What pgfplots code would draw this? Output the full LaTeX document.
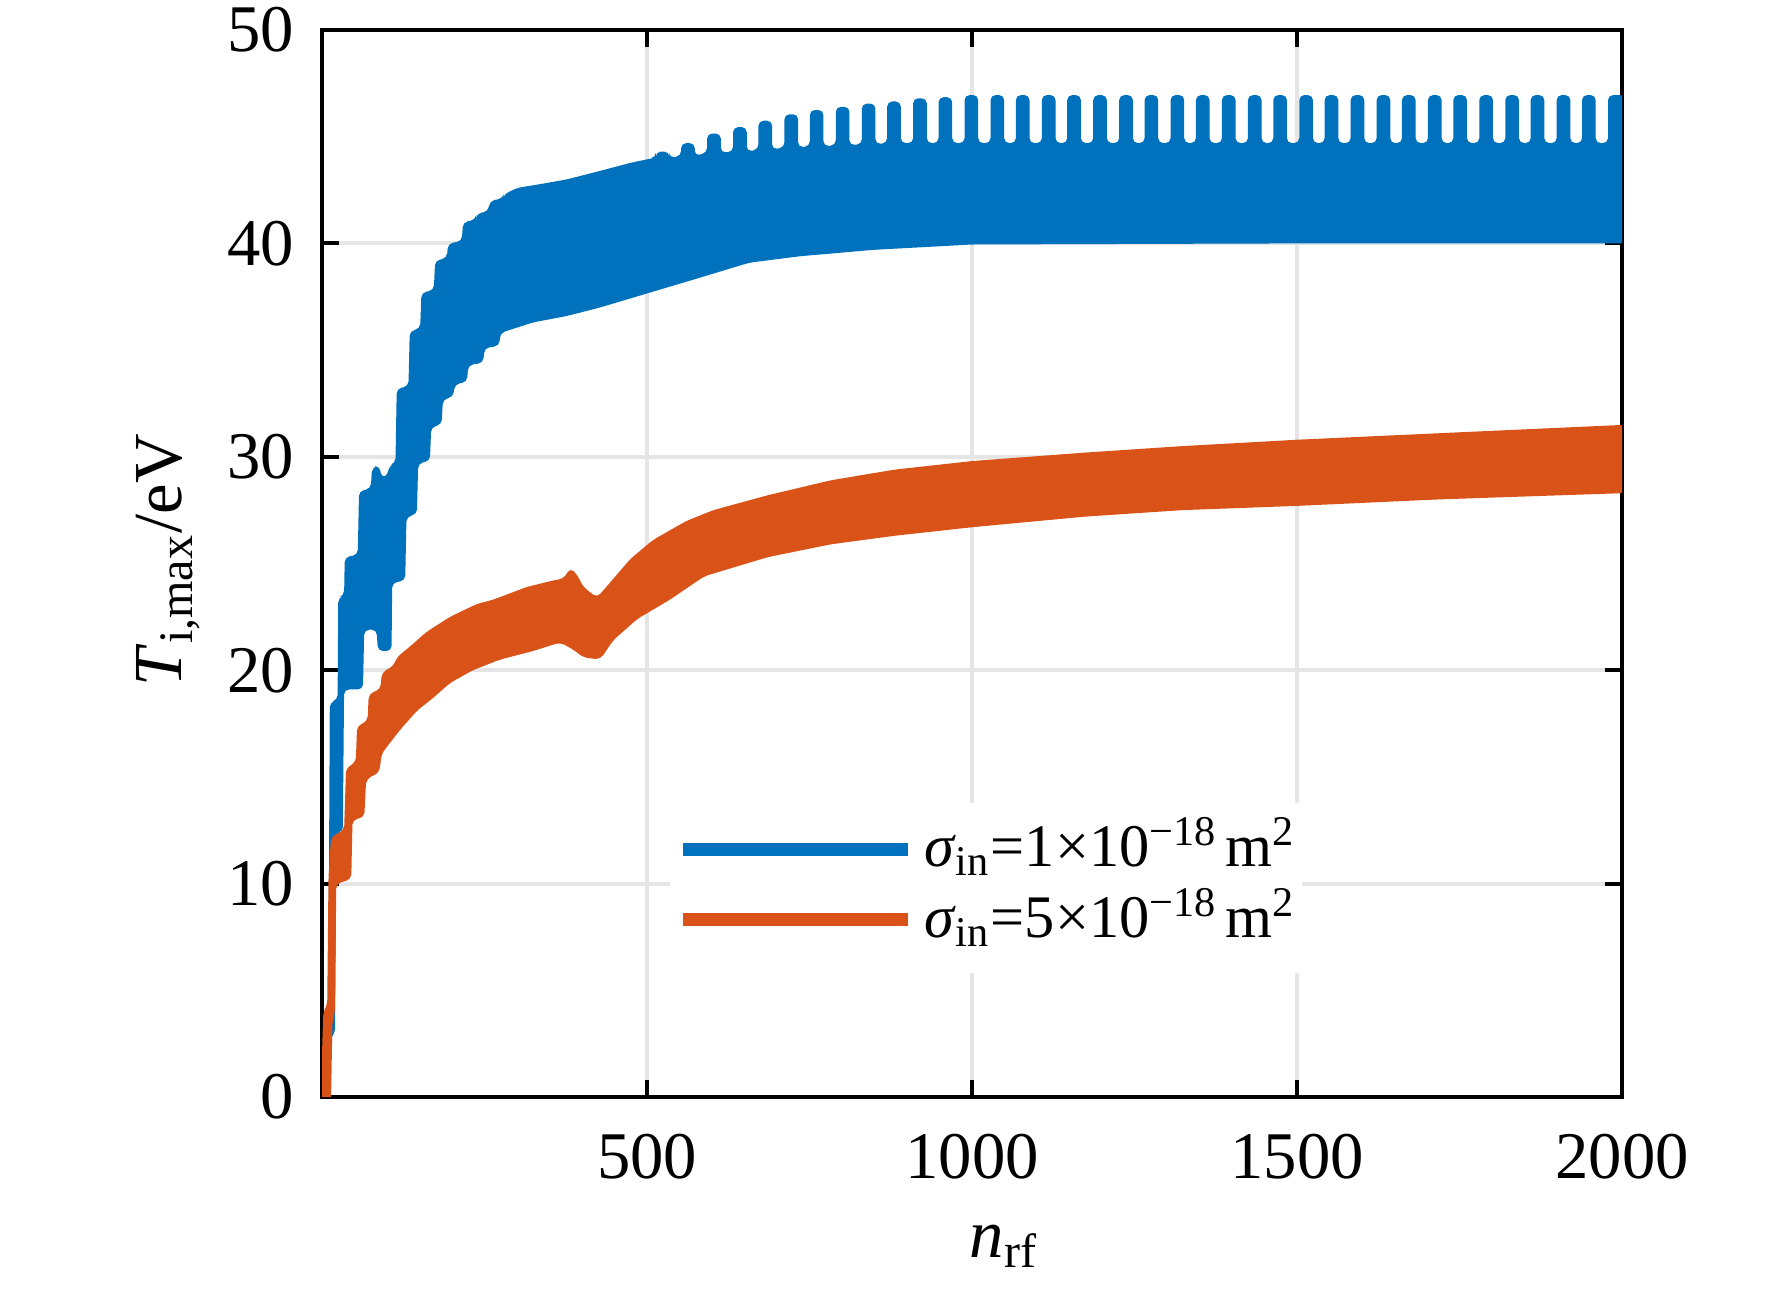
\documentclass[border=0pt]{standalone}
\usepackage{fontspec}
\setmainfont{Liberation Serif}
\usepackage{pgfplots}
\pgfplotsset{compat=1.18}
\definecolor{matblue}{RGB}{0,114,189}
\definecolor{matorange}{RGB}{217,83,25}
\pgfplotsset{layers/mylayers/.define layer set={axis background,axis grid,pre main,main,axis ticks,axis lines,axis tick labels,axis descriptions,axis foreground}{}}
\begin{document}
\begin{tikzpicture}
\begin{axis}[
  set layers=mylayers,
  at={(0,0)}, anchor=south west,
  scale only axis, width=312bp, height=256.08bp,
  xmin=0, xmax=2000, ymin=0, ymax=50,
  xtick={500,1000,1500,2000}, ytick={0,10,20,30,40,50},
  tick pos=both,
  tick align=inside, major tick length=4bp,
  tick style={line width=1bp, black},
  axis line style={line width=1bp},
  grid=major, major grid style={line width=1bp, color=black!10},
  /pgf/number format/assume math mode=true,
  /pgf/number format/set thousands separator={},
  ticklabel style={font=\fontsize{16bp}{19bp}\selectfont},
  xticklabel style={anchor=north, inner sep=0pt, yshift=-8.6bp},
  yticklabel style={anchor=east, inner sep=0pt, xshift=-6.5bp},
  xlabel={\textit{n}\textsubscript{rf}},
  ylabel={\textit{T}\textsubscript{i,max}/eV},
  label style={font=\fontsize{16.5bp}{19bp}\selectfont, inner sep=0pt},
  xlabel style={at={(axis description cs:0.5246,-0.15)}, anchor=base},
  ylabel style={at={(axis description cs:-0.1077,0.503)}, anchor=base},
  legend image code/.code={\draw[#1] (0bp,0.8bp) -- (54bp,0.8bp);},
  legend style={at={(axis description cs:0.267,0.2765)}, anchor=north west,
    draw=none, fill=white, inner xsep=1.7bp, inner ysep=3.4bp, row sep=0pt,
    font=\fontsize{14.5bp}{17bp}\selectfont,
    nodes={inner sep=0pt, text height=12bp, text depth=5bp},
    /tikz/every odd column/.append style={column sep=2.2bp}},
  legend cell align=left,
]
% sigma_in = 1e-18 : band (upper envelope left to right, lower envelope right to left)
\addplot[fill=matblue, draw=none, rounded corners=1.2bp, forget plot] coordinates {
(10,2.8) (11,12) (12,18.5) (24,18.6) (25,23.4) (34,23.5) (35,25.3) (55,25.4) (57,28.4) (75,28.5)
(77,29.5) (88,29.6) (92,29.0) (100,29.1) (104,29.6) (113,29.7) (115,33.2) (133,33.3) (135,35.9)
(151,36.0) (153,37.7) (172,37.8) (174,39.2) (192,39.3) (194,40.0) (215,40.1) (217,41.0) (236,41.1)
(238,41.4) (256,41.5) (258,42.0) (278,42.1) (280,42.3) (300,42.6) (340,42.8) (377,43.0) (428,43.4)
(478,43.8) (510,44.0)
(513.5,44.0) (513.5,44.3) (534.5,44.3) (534.5,44.0)
(552.5,44.1) (552.5,44.7) (573.5,44.7) (573.5,44.1)
(592.5,44.25) (592.5,45.15) (613.5,45.15) (613.5,44.25)
(632.5,44.3) (632.5,45.45) (653.5,45.45) (653.5,44.3)
(671.5,44.4) (671.5,45.75) (692.5,45.75) (692.5,44.4)
(711.5,44.5) (711.5,46.05) (732.5,46.05) (732.5,44.5)
(750.5,44.55) (750.5,46.25) (771.5,46.25) (771.5,44.55)
(790.5,44.6) (790.5,46.4) (811.5,46.4) (811.5,44.6)
(830.5,44.65) (830.5,46.55) (851.5,46.55) (851.5,44.65)
(869.5,44.7) (869.5,46.65) (890.5,46.65) (890.5,44.7)
(909.5,44.7) (909.5,46.8) (930.5,46.8) (930.5,44.7)
(948.5,44.7) (948.5,46.85) (969.5,46.85) (969.5,44.7)
(988.5,44.7) (988.5,46.95) (1009.5,46.95) (1009.5,44.7)
(1028.5,44.7) (1028.5,46.95) (1049.5,46.95) (1049.5,44.7)
(1067.5,44.7) (1067.5,46.95) (1088.5,46.95) (1088.5,44.7)
(1107.5,44.7) (1107.5,46.95) (1128.5,46.95) (1128.5,44.7)
(1146.5,44.7) (1146.5,46.95) (1167.5,46.95) (1167.5,44.7)
(1186.5,44.7) (1186.5,46.95) (1207.5,46.95) (1207.5,44.7)
(1226.5,44.7) (1226.5,46.95) (1247.5,46.95) (1247.5,44.7)
(1265.5,44.7) (1265.5,46.95) (1286.5,46.95) (1286.5,44.7)
(1305.5,44.7) (1305.5,46.95) (1326.5,46.95) (1326.5,44.7)
(1344.5,44.7) (1344.5,46.95) (1365.5,46.95) (1365.5,44.7)
(1384.5,44.7) (1384.5,46.95) (1405.5,46.95) (1405.5,44.7)
(1424.5,44.7) (1424.5,46.95) (1445.5,46.95) (1445.5,44.7)
(1463.5,44.7) (1463.5,46.95) (1484.5,46.95) (1484.5,44.7)
(1503.5,44.7) (1503.5,46.95) (1524.5,46.95) (1524.5,44.7)
(1542.5,44.7) (1542.5,46.95) (1563.5,46.95) (1563.5,44.7)
(1582.5,44.7) (1582.5,46.95) (1603.5,46.95) (1603.5,44.7)
(1622.5,44.7) (1622.5,46.95) (1643.5,46.95) (1643.5,44.7)
(1661.5,44.7) (1661.5,46.95) (1682.5,46.95) (1682.5,44.7)
(1701.5,44.7) (1701.5,46.95) (1722.5,46.95) (1722.5,44.7)
(1740.5,44.7) (1740.5,46.95) (1761.5,46.95) (1761.5,44.7)
(1780.5,44.7) (1780.5,46.95) (1801.5,46.95) (1801.5,44.7)
(1820.5,44.7) (1820.5,46.95) (1841.5,46.95) (1841.5,44.7)
(1859.5,44.7) (1859.5,46.95) (1880.5,46.95) (1880.5,44.7)
(1899.5,44.7) (1899.5,46.95) (1920.5,46.95) (1920.5,44.7)
(1938.5,44.7) (1938.5,46.95) (1959.5,46.95) (1959.5,44.7)
(1978.5,44.7) (1978.5,46.95) (2005,46.95)
(2005,40.0) (1500,40.0) (1000,39.95) (971,39.9) (849,39.7) (736,39.4) (658,39.1) (582,38.4)
(505,37.7) (428,37.0) (377,36.6) (325,36.3) (274,35.8) (273,35.2) (250,35.1) (248,34.4) (225,34.3)
(223,33.5) (204,33.4) (202,32.8) (186,32.7) (184,31.5) (168,31.4) (166,29.8) (148,29.7) (146,27.3)
(130,27.2) (128,24.2) (108,24.1) (107,20.9) (86,20.9) (84,21.9) (65,21.9) (63,19.1) (34,19.1)
(32,12.4) (22,12.4) (20,3.0) (15,2.8)
};
% sigma_in = 5e-18 : band
\addplot[fill=matorange, draw=none, rounded corners=1.2bp, forget plot] coordinates {
(-2,0) (2,4.0) (8,4.3) (10,10.3) (14,12.2) (34,12.5) (37,15.4) (52,15.7) (54,17.4) (70,17.6)
(72,18.9) (90,19.1) (92,19.9) (110,20.2) (115,20.6) (135,21.1) (161,21.8) (197,22.5) (238,23.1)
(263,23.3) (315,23.9) (355,24.2) (372,24.3) (382,24.8) (392,24.5) (402,23.9) (423,23.4) (443,24.1)
(474,25.2) (509,26.1) (561,27.0) (602,27.5) (686,28.2) (783,28.9) (881,29.4) (1000,29.8)
(1175,30.2) (1323,30.5) (1500,30.8) (1715,31.1) (2005,31.5)
(2005,28.3) (1715,28.0) (1500,27.7) (1323,27.5) (1175,27.2) (1000,26.7) (881,26.3) (783,25.9)
(686,25.3) (588,24.4) (535,23.3) (485,22.4) (448,21.4) (428,20.5) (402,20.6) (385,21.0) (366,21.3)
(325,20.9) (274,20.5) (232,20.0) (197,19.4) (171,18.7) (146,18.1) (120,17.2) (92,16.1) (88,15.2)
(68,14.9) (65,13.1) (47,13.0) (45,10.2) (22,10.0) (20,4.0) (16,3.5) (14,0)
};
\addlegendimage{matblue, line width=3.1bp}
\addlegendentry{\textit{σ}\textsubscript{in}=1×10\textsuperscript{−18}\hspace{0.12em}m\textsuperscript{2}}
\addlegendimage{matorange, line width=3.1bp}
\addlegendentry{\textit{σ}\textsubscript{in}=5×10\textsuperscript{−18}\hspace{0.12em}m\textsuperscript{2}}
\end{axis}
\pgfresetboundingbox
\useasboundingbox (-77.28bp,-46.56bp) rectangle (348bp,263.28bp);
\end{tikzpicture}
\end{document}
